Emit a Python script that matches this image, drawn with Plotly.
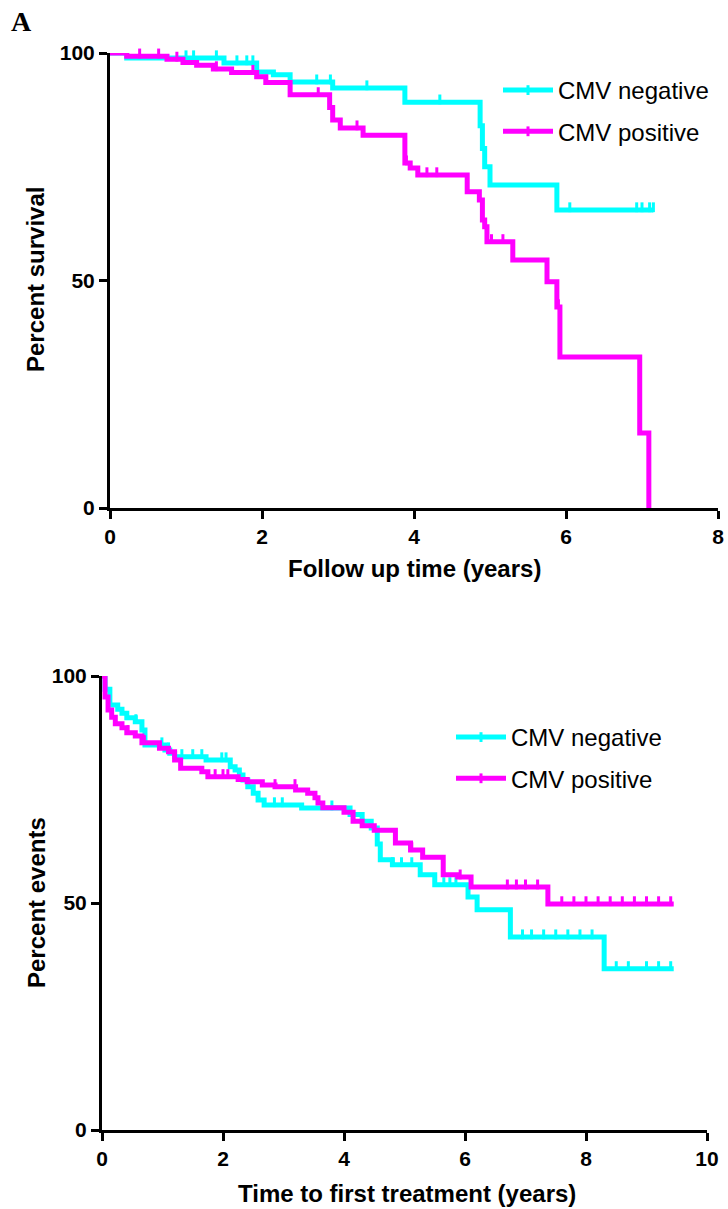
import numpy as np
import plotly.graph_objects as go

# ---------------- Data ----------------
# Panel A: overall survival (Kaplan-Meier), step times (years) and survival (%) after each step
os_neg_times = [0.22, 1.50, 1.93, 2.15, 2.37, 2.93, 3.88, 4.87, 4.90, 4.93, 5.00, 5.88]
os_neg_surv = [98.9, 97.8, 95.8, 95.2, 93.6, 92.3, 89.2, 84.0, 79.0, 75.0, 71.0, 65.5]
os_neg_end = 7.15
os_neg_cens = [1.0, 1.1, 1.4, 1.67, 1.8, 1.88, 2.72, 2.9, 3.38, 4.34, 6.05, 6.93, 7.0, 7.1, 7.15]

os_pos_times = [0.22, 0.75, 0.96, 1.14, 1.36, 1.60, 1.93, 2.05, 2.37, 2.89, 2.93, 3.03, 3.33,
                3.88, 3.95, 4.05, 4.70, 4.86, 4.90, 4.93, 4.96, 5.30, 5.75, 5.88, 5.92, 6.97, 7.09]
os_pos_surv = [99.3, 98.6, 97.9, 97.3, 96.5, 95.7, 94.8, 93.5, 90.8, 88.0, 85.3, 83.5, 81.9,
               75.8, 74.7, 73.2, 69.5, 67.7, 63.3, 61.8, 58.5, 54.5, 49.7, 44.2, 33.2, 16.5, 0.0]
os_pos_end = 7.09
os_pos_cens = [0.13, 0.39, 0.64, 0.88, 1.4, 1.88, 2.06, 2.74, 3.25, 3.9, 4.17, 4.3, 5.02, 5.17, 5.9]

# Panel B: time to first treatment
ttft_neg_times = [0.05, 0.13, 0.26, 0.33, 0.41, 0.55, 0.66, 0.71, 1.04, 1.12, 1.20, 1.72, 2.12,
                  2.20, 2.27, 2.33, 2.41, 2.50, 2.58, 2.68, 3.30, 4.10, 4.30, 4.45, 4.55, 4.60,
                  4.80, 5.26, 5.50, 6.05, 6.20, 6.75, 8.30]
ttft_neg_surv = [97.1, 93.6, 92.7, 91.8, 90.8, 89.9, 88.1, 84.8, 83.7, 83.0, 82.2, 81.5, 80.0,
                 79.3, 78.2, 77.1, 75.6, 74.2, 72.7, 71.6, 70.9, 69.5, 68.0, 66.5, 63.0, 59.5,
                 58.4, 56.2, 54.0, 51.3, 48.5, 42.5, 35.5]
ttft_neg_end = 9.45
ttft_neg_cens = [0.56, 0.99, 1.1, 1.32, 1.5, 1.65, 1.98, 2.05, 2.85, 2.98, 3.8, 4.8, 4.95, 5.12,
                 5.65, 5.75, 5.85, 6.95, 7.1, 7.3, 7.5, 7.7, 7.9, 8.1, 8.5, 8.7, 9.0, 9.2, 9.4]

ttft_pos_times = [0.05, 0.10, 0.16, 0.22, 0.33, 0.41, 0.55, 0.66, 0.95, 1.10, 1.20, 1.30, 1.65,
                  1.75, 2.25, 2.40, 2.65, 2.86, 3.20, 3.40, 3.52, 3.57, 3.65, 4.00, 4.15, 4.30,
                  4.50, 4.85, 5.10, 5.30, 5.64, 5.88, 6.10, 7.37]
ttft_pos_surv = [95.4, 92.5, 90.9, 89.5, 88.6, 87.5, 86.8, 85.3, 84.1, 83.3, 81.5, 79.7, 78.9,
                 77.8, 77.2, 76.7, 76.0, 75.6, 74.9, 74.2, 73.2, 72.0, 71.0, 70.0, 68.0, 67.0,
                 66.0, 63.2, 61.7, 60.1, 56.2, 55.7, 53.5, 49.8]
ttft_pos_end = 9.45
ttft_pos_cens = [0.43, 0.7, 1.87, 2.0, 2.08, 2.86, 3.19, 5.12, 5.92, 6.7, 6.85, 7.0, 7.2, 7.6,
                 7.8, 8.0, 8.2, 8.4, 8.6, 8.8, 9.0, 9.2, 9.4]

series_names = ["CMV negative", "CMV positive"]
colors = ["#00FFFF", "#FF00FF"]

x_ticks_a = [0, 2, 4, 6, 8]
x_ticks_b = [0, 2, 4, 6, 8, 10]
y_ticks = [0, 50, 100]

# ---------------- Helpers ----------------
def step_xy(times, surv, end):
    x = [0.0] + list(times)
    y = [100.0] + list(surv)
    if end > x[-1]:
        x.append(end)
        y.append(y[-1])
    return x, y


def surv_at(times, surv, t):
    idx = np.searchsorted(np.array(times), t, side="right") - 1
    return 100.0 if idx < 0 else surv[idx]


# the page body margin is removed (post_script), so the figure fills the 728x1209 window
OFF = 0
W, H = 728, 1209
LW = 5
TICK_LIFT = 0.6  # censor ticks sit on top of the line

fig = go.Figure()

panels = [
    ("x", "y", "legend", [(os_neg_times, os_neg_surv, os_neg_end, os_neg_cens),
                          (os_pos_times, os_pos_surv, os_pos_end, os_pos_cens)]),
    ("x2", "y2", "legend2", [(ttft_neg_times, ttft_neg_surv, ttft_neg_end, ttft_neg_cens),
                             (ttft_pos_times, ttft_pos_surv, ttft_pos_end, ttft_pos_cens)]),
]

for xa, ya, leg, sers in panels:
    for i, (tt, ss, end, cens) in enumerate(sers):
        c = colors[i]
        x, y = step_xy(tt, ss, end)
        fig.add_trace(go.Scatter(x=x, y=y, xaxis=xa, yaxis=ya, mode="lines",
                                 line=dict(color=c, width=LW, shape="hv"),
                                 showlegend=False, hoverinfo="skip"))
        cy = [surv_at(tt, ss, t) + TICK_LIFT for t in cens]
        fig.add_trace(go.Scatter(x=cens, y=cy, xaxis=xa, yaxis=ya, mode="markers",
                                 marker=dict(symbol="line-ns", size=7, color=c,
                                             line=dict(color=c, width=3)),
                                 showlegend=False, hoverinfo="skip", cliponaxis=False))
        # legend entry
        fig.add_trace(go.Scatter(x=[None], y=[None], xaxis=xa, yaxis=ya, mode="lines+markers",
                                 name=series_names[i], legend=leg, legendgroup=leg + str(i),
                                 line=dict(color=c, width=LW),
                                 marker=dict(symbol="line-ns", size=7, color=c,
                                             line=dict(color=c, width=3))))

FAM = "Liberation Sans, Arial, sans-serif"
tick_font = dict(family=FAM, size=21, color="black", weight="bold")
title_font = dict(family=FAM, size=24, color="black", weight="bold")
legend_font = dict(family=FAM, size=24, color="black")
axis_common = dict(showline=True, linewidth=3, linecolor="black", ticks="outside", ticklen=8,
                   tickwidth=3, tickcolor="black", showgrid=False, zeroline=False,
                   tickfont=tick_font, fixedrange=True, automargin=False)


def px_x(p):
    return (p - OFF) / W


def px_y(p):
    return 1 - (p - OFF) / H


def title_ann(text, x, y, angle=0):
    return dict(text=text, x=px_x(x), y=px_y(y), xref="paper", yref="paper",
                xanchor="center", yanchor="middle", showarrow=False, textangle=angle,
                font=title_font)


fig.update_layout(
    width=W, height=H, margin=dict(l=0, r=0, t=0, b=0),
    paper_bgcolor="white", plot_bgcolor="white",
    xaxis=dict(domain=[px_x(110), px_x(718)], anchor="y", range=[0, 8], tickvals=x_ticks_a,
               **axis_common),
    yaxis=dict(domain=[px_y(508), px_y(53)], anchor="x", range=[0, 100], tickvals=y_ticks,
               **axis_common),
    xaxis2=dict(domain=[px_x(102), px_x(707)], anchor="y2", range=[0, 10], tickvals=x_ticks_b,
                **axis_common),
    yaxis2=dict(domain=[px_y(1130), px_y(676)], anchor="x2", range=[0, 100], tickvals=y_ticks,
                **axis_common),
    legend=dict(x=px_x(498), y=px_y(68), xanchor="left", yanchor="top", font=legend_font,
                itemwidth=50, tracegroupgap=7, bgcolor="rgba(0,0,0,0)"),
    legend2=dict(x=px_x(451), y=px_y(715), xanchor="left", yanchor="top", font=legend_font,
                 itemwidth=50, tracegroupgap=7, bgcolor="rgba(0,0,0,0)"),
    annotations=[
        dict(text="<b>A</b>", x=px_x(9), y=px_y(22), xref="paper", yref="paper",
             xanchor="left", yanchor="middle", showarrow=False,
             font=dict(family="Liberation Serif, Times New Roman, serif", size=28, color="black")),
        title_ann("Follow up time (years)", 414, 568),
        title_ann("Percent survival", 36, 280, -90),
        title_ann("Time to first treatment (years)", 407, 1193),
        title_ann("Percent events", 36, 903, -90),
    ],
)

fig.write_html(
    "out.html",
    config={"displayModeBar": False},
    post_script="document.body.style.margin='0';document.body.style.overflow='hidden';",
)
